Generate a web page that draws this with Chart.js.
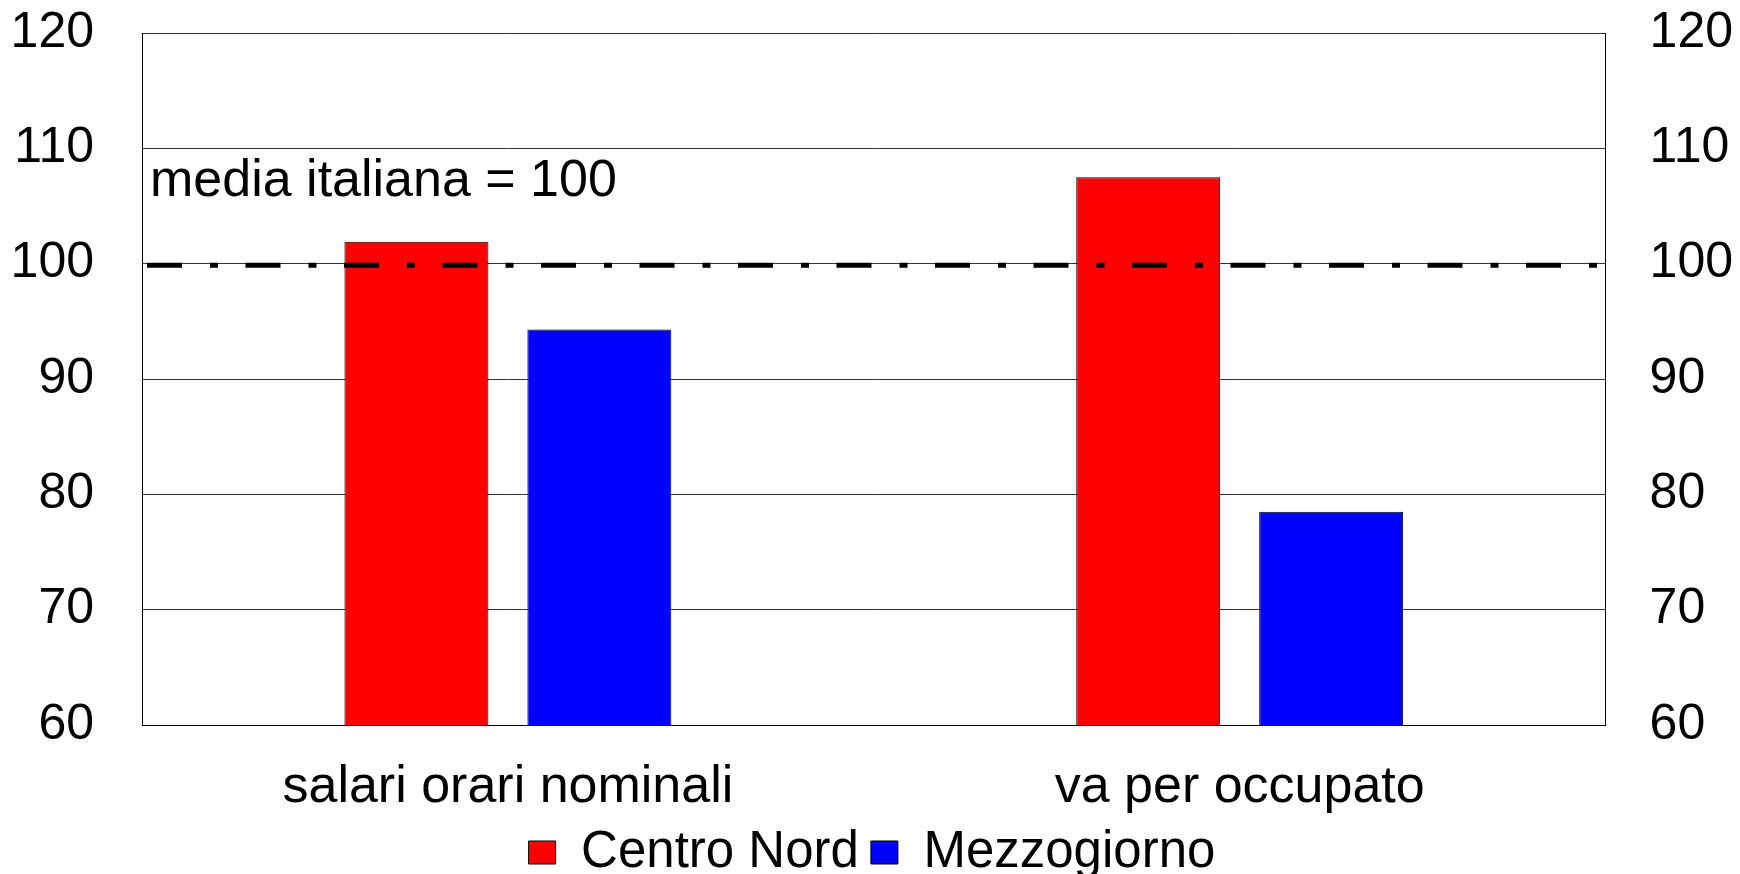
<!DOCTYPE html>
<html>
<head>
<meta charset="utf-8">
<script src="https://cdn.jsdelivr.net/npm/chart.js@4/dist/chart.umd.min.js"></script>
<style>
  body { margin: 0; background: #fff; }
  #chart { display: block; }
</style>
</head>
<body>
<canvas id="chart" width="1740" height="874"></canvas>
<script>
// Categories and series
const categories = ["salari orari nominali", "va per occupato"];
const centroNord = [101.9, 107.5];
const mezzogiorno = [94.3, 78.5];

// Axis range and reference line
const yMin = 60;
const yMax = 120;
const yStep = 10;
const mediaItaliana = 100;
const noteText = "media italiana = 100";

const FONT = "'Liberation Sans', Arial, sans-serif";

// Draw the dash-dot line at the italian average and the note
const refLinePlugin = {
    id: "refLine",
    afterDatasetsDraw(chart) {
        const ctx = chart.ctx;
        const area = chart.chartArea;
        const y = chart.scales.y.getPixelForValue(mediaItaliana);

        ctx.save();
        ctx.strokeStyle = "#000";
        ctx.lineWidth = 5;
        ctx.setLineDash([35, 28, 8, 27.5]);
        ctx.lineDashOffset = 93.5;
        ctx.beginPath();
        ctx.moveTo(area.left, y + 1.5);
        ctx.lineTo(area.right - 2, y + 1.5);
        ctx.stroke();
        ctx.restore();

        ctx.save();
        ctx.fillStyle = "#000";
        ctx.font = "52px " + FONT;
        ctx.textBaseline = "alphabetic";
        ctx.fillText(noteText, area.left + 8, chart.scales.y.getPixelForValue(110) + 48);
        ctx.restore();
    }
};

const ctx = document.querySelector("#chart").getContext("2d");

new Chart(ctx, {
    type: "bar",
    data: {
        labels: categories,
        datasets: [
            {
                label: "Centro Nord",
                data: centroNord,
                backgroundColor: "#ff0000",
                borderColor: "#000",
                borderWidth: 1,
                yAxisID: "y"
            },
            {
                label: "Mezzogiorno",
                data: mezzogiorno,
                backgroundColor: "#0000ff",
                borderColor: "#000",
                borderWidth: 1,
                yAxisID: "y"
            }
        ]
    },
    options: {
        responsive: false,
        animation: false,
        categoryPercentage: 0.5,
        barPercentage: 0.787,
        layout: {
            padding: { left: 11, right: 7, top: 0, bottom: -14 }
        },
        plugins: {
            legend: {
                position: "bottom",
                labels: {
                    color: "#000",
                    font: { family: FONT, size: 51 },
                    boxWidth: 27,
                    boxHeight: 23,
                    padding: 12
                }
            },
            tooltip: { enabled: false }
        },
        scales: {
            x: {
                grid: { display: false },
                border: { display: true, color: "#000", width: 1 },
                ticks: {
                    color: "#000",
                    font: { family: FONT, size: 52 },
                    padding: 23,
                    maxRotation: 0
                },
                afterFit(scale) {
                    scale.height = 90;
                    scale.paddingLeft = 0;
                    scale.paddingRight = 0;
                }
            },
            y: {
                position: "left",
                min: yMin,
                max: yMax,
                grid: { color: "#333", lineWidth: 1, drawTicks: false },
                border: { display: true, color: "#000", width: 1 },
                ticks: {
                    stepSize: yStep,
                    color: "#000",
                    font: { family: FONT, size: 50 },
                    padding: 48
                },
                afterFit(scale) {
                    scale.width = 131;
                    scale.paddingTop = 33;
                    scale.paddingBottom = 0;
                }
            },
            y2: {
                position: "right",
                min: yMin,
                max: yMax,
                grid: { display: false, drawTicks: false },
                border: { display: true, color: "#000", width: 1 },
                ticks: {
                    stepSize: yStep,
                    color: "#000",
                    font: { family: FONT, size: 50 },
                    padding: 44
                },
                afterFit(scale) {
                    scale.width = 127.4;
                    scale.paddingTop = 33;
                    scale.paddingBottom = 0;
                }
            }
        }
    },
    plugins: [refLinePlugin]
});
</script>
</body>
</html>
